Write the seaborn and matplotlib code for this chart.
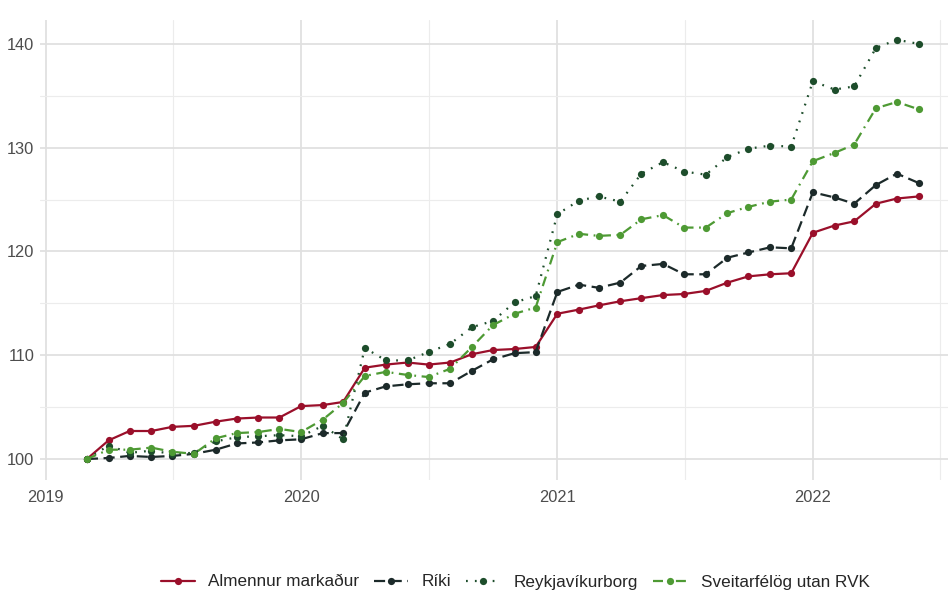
import pandas as pd
import numpy as np
import matplotlib.pyplot as plt
import matplotlib.dates as mdates
from matplotlib.ticker import MultipleLocator
import seaborn as sns

# Monthly index values, 2019-03 .. 2022-06 (March 2019 = 100)
months = pd.date_range(start='2019-03-01', periods=40, freq='MS')

almennur = [100.0, 101.8, 102.7, 102.7, 103.1, 103.2, 103.6, 103.9, 104.0, 104.0,
            105.1, 105.2, 105.5, 108.8, 109.1, 109.3, 109.1, 109.3, 110.1, 110.5,
            110.6, 110.8, 114.0, 114.4, 114.8, 115.2, 115.5, 115.8, 115.9, 116.2,
            117.0, 117.6, 117.8, 117.9, 121.8, 122.5, 122.9, 124.6, 125.1, 125.3]

riki = [100.0, 100.1, 100.3, 100.2, 100.3, 100.5, 100.9, 101.5, 101.6, 101.8,
        101.9, 102.5, 102.5, 106.4, 107.0, 107.2, 107.3, 107.3, 108.5, 109.6,
        110.2, 110.3, 116.1, 116.8, 116.5, 117.0, 118.6, 118.8, 117.8, 117.8,
        119.4, 119.9, 120.4, 120.3, 125.7, 125.2, 124.6, 126.4, 127.5, 126.6]

reykjavik = [100.0, 101.3, 100.6, 100.8, 100.5, 100.6, 101.7, 102.1, 102.2, 102.3,
             102.2, 103.2, 101.9, 110.7, 109.5, 109.5, 110.3, 111.1, 112.7, 113.3,
             115.1, 115.7, 123.6, 124.9, 125.3, 124.8, 127.5, 128.6, 127.7, 127.4,
             129.1, 129.9, 130.2, 130.1, 136.4, 135.6, 135.9, 139.6, 140.4, 140.0]

sveitarfelog = [100.0, 100.9, 100.9, 101.1, 100.7, 100.5, 102.0, 102.5, 102.6, 102.9,
                102.6, 103.8, 105.4, 108.0, 108.4, 108.1, 107.9, 108.7, 110.8, 112.9,
                114.0, 114.6, 120.9, 121.7, 121.5, 121.6, 123.1, 123.5, 122.3, 122.3,
                123.7, 124.3, 124.8, 125.0, 128.7, 129.5, 130.3, 133.8, 134.4, 133.7]

names = ['Almennur markaður', 'Ríki', 'Reykjavíkurborg', 'Sveitarfélög utan RVK']
colors = ['#9a0f2a', '#1c2a2a', '#1d4d2b', '#4e9a34']
dashes = ['', (5, 2.5), (0.8, 3.2), (4.5, 2.5, 0.8, 2.5)]

data = pd.DataFrame({'Dagsetning': months,
                     names[0]: almennur,
                     names[1]: riki,
                     names[2]: reykjavik,
                     names[3]: sveitarfelog})
long = data.melt(id_vars='Dagsetning', var_name='Hópur', value_name='Vísitala')

sns.set_theme(style='whitegrid')
plt.rcParams['font.family'] = ['Liberation Sans', 'DejaVu Sans']

fig = plt.figure(figsize=(9.5, 5.92), dpi=100)
ax = fig.add_axes([40 / 950, 1 - 480 / 592, 908 / 950, 460 / 592])

sns.lineplot(data=long, x='Dagsetning', y='Vísitala', hue='Hópur', style='Hópur',
             hue_order=names, style_order=names,
             palette=dict(zip(names, colors)),
             dashes=dict(zip(names, dashes)),
             markers=dict(zip(names, ['o'] * 4)),
             markersize=5.2, markeredgewidth=0, linewidth=1.6, ax=ax)

ax.set_xlim(pd.Timestamp('2018-12-24'), pd.Timestamp('2022-07-13'))
ax.set_ylim(97.98, 142.3)

ax.xaxis.set_major_locator(mdates.YearLocator())
ax.xaxis.set_major_formatter(mdates.DateFormatter('%Y'))
ax.xaxis.set_minor_locator(mdates.MonthLocator(bymonth=7, bymonthday=2))
ax.yaxis.set_major_locator(MultipleLocator(10))
ax.yaxis.set_minor_locator(MultipleLocator(5))

ax.grid(which='major', color='#e0e0e0', linewidth=1.3)
ax.grid(which='minor', color='#ececec', linewidth=0.8)
ax.set_facecolor('white')
for s in ax.spines.values():
    s.set_visible(False)
ax.tick_params(which='both', length=0)
ax.tick_params(axis='both', labelsize=11.8, labelcolor='#4d4d4d')
ax.tick_params(axis='y', pad=4)
ax.tick_params(axis='x', pad=7)
ax.set_xlabel('')
ax.set_ylabel('')

handles, labels = ax.get_legend_handles_labels()
ax.legend_.remove()
fig.legend(handles, labels, loc='center', bbox_to_anchor=(515 / 950, 1 - 582 / 592),
           ncol=4, frameon=False, fontsize=12.3, handlelength=2.0,
           columnspacing=0.85, handletextpad=0.8)

plt.savefig('out.png', dpi=100)
